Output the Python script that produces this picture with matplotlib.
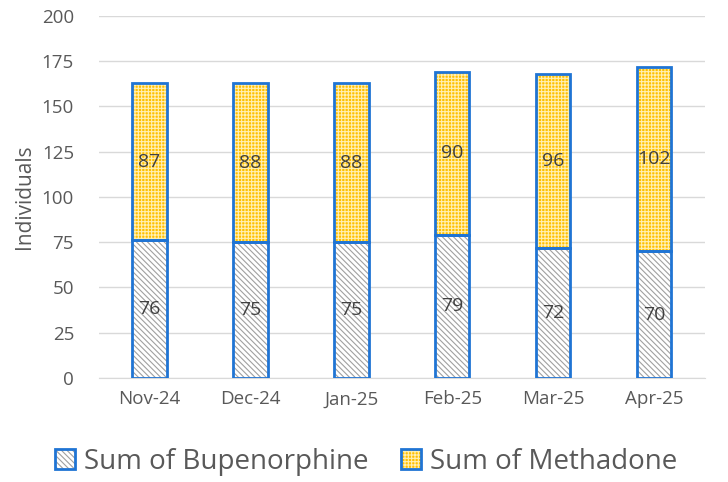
import matplotlib
matplotlib.use("Agg")
import matplotlib.pyplot as plt
import numpy as np
from matplotlib.patches import Patch

categories = ["Nov-24", "Dec-24", "Jan-25", "Feb-25", "Mar-25", "Apr-25"]
bupenorphine = [76, 75, 75, 79, 72, 70]
methadone = [87, 88, 88, 90, 96, 102]
series_names = ["Sum of Bupenorphine", "Sum of Methadone"]
yticks = [0, 25, 50, 75, 100, 125, 150, 175, 200]

plt.rcParams['font.family'] = ['Open Sans', 'DejaVu Sans']
plt.rcParams['hatch.linewidth'] = 0.8

txt = "#595959"
blue = "#1F74D4"
grid = "#D9D9D9"
bup_hatch = "\\\\\\\\\\\\"
meth_hatch = "+++++"

fig = plt.figure(figsize=(7.28, 4.82), dpi=100)
ax = fig.add_axes([0.136, 0.216, 0.832, 0.751])

x = np.arange(len(categories))
w = 0.34
b = np.array(bupenorphine)
m = np.array(methadone)

# hatch layers
ax.bar(x, b, w, color="white", edgecolor="#A0A0A0", hatch=bup_hatch, linewidth=0, zorder=2)
ax.bar(x, m, w, bottom=b, color="#FFC000", edgecolor="#FFF0B3", hatch=meth_hatch, linewidth=0, zorder=2)
# outlines
ax.bar(x, b, w, color="none", edgecolor=blue, linewidth=2, zorder=3)
ax.bar(x, m, w, bottom=b, color="none", edgecolor=blue, linewidth=2, zorder=3)

for i in range(len(x)):
    ax.text(x[i], b[i] / 2, str(b[i]), ha="center", va="center", fontsize=14, color="#404040", zorder=4)
    ax.text(x[i], b[i] + m[i] / 2, str(m[i]), ha="center", va="center", fontsize=14, color="#404040", zorder=4)

ax.set_xlim(-0.5, len(categories) - 0.5)
ax.set_ylim(0, 200)
ax.set_yticks(yticks)
ax.set_xticks(x)
ax.set_xticklabels(categories)
ax.tick_params(axis="both", length=0, labelsize=13.5, colors=txt)
ax.tick_params(axis="y", pad=18)
ax.tick_params(axis="x", pad=9)
ax.yaxis.grid(True, color=grid, linewidth=1)
ax.set_axisbelow(True)
for s in ["top", "right", "left"]:
    ax.spines[s].set_visible(False)
ax.spines["bottom"].set_color(grid)
ax.set_ylabel("Individuals", fontsize=15, color=txt, labelpad=5)

h1 = (Patch(facecolor="white", edgecolor="#A0A0A0", hatch=bup_hatch, linewidth=0),
      Patch(facecolor="none", edgecolor=blue, linewidth=2))
h2 = (Patch(facecolor="#FFC000", edgecolor="#FFF0B3", hatch=meth_hatch, linewidth=0),
      Patch(facecolor="none", edgecolor=blue, linewidth=2))
fig.legend([h1, h2], series_names, loc="center", bbox_to_anchor=(0.503, 0.042),
           ncol=2, frameon=False, fontsize=20, labelcolor=txt,
           handlelength=0.72, handleheight=0.72, handletextpad=0.3, columnspacing=1.2)

fig.savefig("out.png", dpi=100)
